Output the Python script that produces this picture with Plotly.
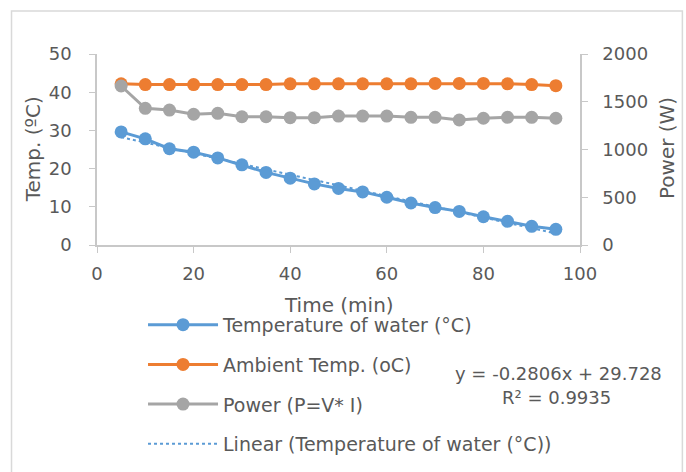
import numpy as np
import plotly.graph_objects as go

time_min = [5, 10, 15, 20, 25, 30, 35, 40, 45, 50, 55, 60, 65, 70, 75, 80, 85, 90, 95]
water_temp = [29.6, 27.8, 25.2, 24.3, 22.8, 21.0, 19.0, 17.5, 16.0, 14.8, 13.9, 12.5, 11.0, 9.8, 8.8, 7.4, 6.2, 4.9, 4.1]
ambient_temp = [42.2, 42.0, 42.0, 42.0, 42.0, 42.0, 42.0, 42.2, 42.2, 42.2, 42.2, 42.2, 42.2, 42.3, 42.3, 42.3, 42.2, 42.0, 41.7]
power_w = [1665, 1431, 1413, 1369, 1379, 1343, 1343, 1333, 1333, 1350, 1350, 1350, 1337, 1337, 1309, 1327, 1337, 1337, 1327]

eq_text = "y = -0.2806x + 29.728"
r2_text = "R² = 0.9935"

slope, intercept = np.polyfit(time_min, water_temp, 1)
trend = [slope * t + intercept for t in time_min]

BLUE = "#5B9BD5"
ORANGE = "#ED7D31"
GRAY = "#A5A5A5"
TXT = "#595959"
AX = "#C8C8C8"
FONT = "DejaVu Sans"

fig = go.Figure()
fig.add_trace(go.Scatter(x=time_min, y=water_temp, mode="lines+markers",
                         name="Temperature of water (°C)", legendgroup="a",
                         line=dict(color=BLUE, width=3), marker=dict(size=13, color=BLUE)))
fig.add_trace(go.Scatter(x=time_min, y=ambient_temp, mode="lines+markers",
                         name="Ambient Temp. (oC)", legendgroup="b",
                         line=dict(color=ORANGE, width=3), marker=dict(size=13, color=ORANGE)))
fig.add_trace(go.Scatter(x=time_min, y=power_w, mode="lines+markers",
                         name="Power (P=V* I)", legendgroup="c", yaxis="y2",
                         line=dict(color=GRAY, width=3), marker=dict(size=13, color=GRAY)))
fig.add_trace(go.Scatter(x=time_min, y=trend, mode="lines",
                         name="Linear (Temperature of water (°C))", legendgroup="d",
                         line=dict(color=BLUE, width=2, dash="dot")))

fig.update_layout(
    width=686, height=472,
    margin=dict(l=97, r=106, t=54, b=227, autoexpand=False),
    paper_bgcolor="white", plot_bgcolor="white",
    font=dict(family=FONT, color=TXT, size=16),
    showlegend=True,
    legend=dict(xref="container", yref="container", x=0.2085, y=0.352,
                xanchor="left", yanchor="top",
                font=dict(size=19, color=TXT), tracegroupgap=12,
                itemwidth=70, bgcolor="rgba(0,0,0,0)"),
    xaxis=dict(range=[0, 100], dtick=20, showgrid=False, zeroline=False,
               showline=True, linecolor=AX, linewidth=1.5, automargin=False,
               ticks="outside", ticklen=6, tickcolor=AX,
               tickfont=dict(size=18, color=TXT), ticklabelstandoff=6),
    yaxis=dict(range=[0, 50], dtick=10, showgrid=False, zeroline=False,
               showline=True, linecolor=AX, linewidth=1.5, automargin=False,
               ticks="outside", ticklen=6, tickcolor=AX,
               tickfont=dict(size=18, color=TXT), ticklabelstandoff=14),
    yaxis2=dict(range=[0, 2000], dtick=500, overlaying="y", side="right",
                showgrid=False, zeroline=False, automargin=False,
                showline=True, linecolor=AX, linewidth=1.5,
                ticks="outside", ticklen=6, tickcolor=AX,
                tickfont=dict(size=18, color=TXT), ticklabelstandoff=11),
    annotations=[
        dict(text="Time (min)", xref="paper", yref="paper", x=0.5, y=-0.315,
             xanchor="center", showarrow=False, font=dict(size=20, color=TXT), yanchor="middle"),
        dict(text="Temp. (ºC)", xref="paper", yref="paper", x=-0.133, y=0.5,
             xanchor="center", yanchor="middle",
             showarrow=False, textangle=-90, font=dict(size=20, color=TXT)),
        dict(text="Power (W)", xref="paper", yref="paper", x=1.179, y=0.51,
             xanchor="center", yanchor="middle",
             showarrow=False, textangle=-90, font=dict(size=20, color=TXT)),
        dict(text=eq_text, xref="paper", yref="paper", x=0.956, y=-0.675,
             xanchor="center", yanchor="middle",
             showarrow=False, font=dict(size=18, color=TXT)),
        dict(text=r2_text, xref="paper", yref="paper", x=0.952, y=-0.796,
             xanchor="center", yanchor="middle",
             showarrow=False, font=dict(size=18, color=TXT)),
    ],
    shapes=[dict(type="rect", xref="paper", yref="paper",
                 x0=-0.177, x1=1.212, y0=-1.3, y1=1.225,
                 line=dict(color="#D9D9D9", width=1.5), fillcolor="rgba(0,0,0,0)",
                 layer="below")],
)

fig.write_html("out.html")
